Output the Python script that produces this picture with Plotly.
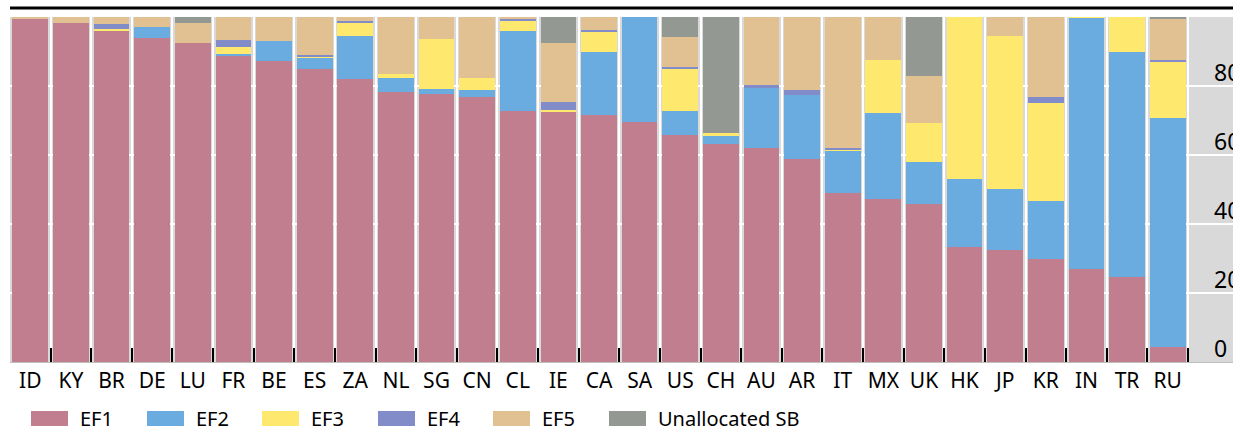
import plotly.graph_objects as go

categories = ["ID", "KY", "BR", "DE", "LU", "FR", "BE", "ES", "ZA", "NL", "SG", "CN", "CL", "IE",
              "CA", "SA", "US", "CH", "AU", "AR", "IT", "MX", "UK", "HK", "JP", "KR", "IN", "TR", "RU"]

ef1 = [99.6, 98.4, 95.8, 94.0, 92.5, 88.7, 87.2, 85.0, 82.1, 78.4, 77.6, 76.7, 72.8, 72.6, 71.6,
       69.5, 65.8, 63.2, 62.1, 58.8, 49.0, 47.2, 45.8, 33.2, 32.6, 29.9, 27.0, 24.7, 4.4]
ef2 = [0, 0, 0, 3.2, 0, 0.5, 5.8, 3.0, 12.5, 4.0, 1.4, 2.2, 23.1, 0, 18.3,
       30.5, 7.0, 2.3, 17.2, 18.6, 12.2, 25.1, 12.3, 19.8, 17.6, 16.8, 72.8, 65.2, 66.4]
ef3 = [0, 0, 0.6, 0, 0, 2.2, 0, 0.6, 3.8, 1.2, 14.6, 3.4, 3.1, 0.4, 6.0,
       0, 12.2, 0.9, 0, 0, 0.4, 15.3, 11.3, 47.0, 44.4, 28.3, 0.2, 10.1, 16.4]
ef4 = [0, 0, 1.6, 0, 0, 1.9, 0, 0.3, 0.4, 0, 0, 0, 0.3, 2.5, 0.4,
       0, 0.5, 0, 1.0, 1.4, 0.5, 0, 0, 0, 0, 1.7, 0, 0, 0.4]
ef5 = [0.4, 1.6, 2.0, 2.8, 5.9, 6.7, 7.0, 11.1, 1.2, 16.4, 6.4, 17.7, 0.7, 17.1, 3.7,
       0, 8.7, 0, 19.7, 21.2, 37.9, 12.4, 13.5, 0, 5.4, 23.3, 0, 0, 12.0]
unalloc = [0, 0, 0, 0, 1.6, 0, 0, 0, 0, 0, 0, 0, 0, 7.4, 0,
           0, 5.8, 33.6, 0, 0, 0, 0, 17.1, 0, 0, 0, 0, 0, 0.4]

series_names = ["EF1", "EF2", "EF3", "EF4", "EF5", "Unallocated SB"]
series_values = [ef1, ef2, ef3, ef4, ef5, unalloc]
series_colors = ["#C07E8E", "#6AACDF", "#FFE86E", "#828CC8", "#E1C191", "#939992"]

y_tick_vals = [0, 20, 40, 60, 80]
y_tick_text = ["0", "20", "40", "60", "80"]

W, H = 1233, 427
ML, MR, MT, MB = 10, 0, 17, 65
PW, PH = W - ML - MR, H - MT - MB

FONT = "Noto Sans"

fig = go.Figure()
for name, vals, col in zip(series_names, series_values, series_colors):
    fig.add_trace(go.Bar(x=categories, y=vals, name=name, marker=dict(color=col, line=dict(width=0)),
                         showlegend=False))

n = len(categories)
pitch = (1188 - ML) / n
xmax = -0.5 + PW / pitch

fig.update_layout(
    width=W, height=H,
    margin=dict(l=ML, r=MR, t=MT, b=MB, autoexpand=False),
    barmode="stack", bargap=0.12,
    paper_bgcolor="white", plot_bgcolor="#D9D9D9",
    font=dict(family=FONT, size=21, color="black"),
    xaxis=dict(type="category", range=[-0.5, xmax], tickson="boundaries", tickangle=0,
               automargin=False,
               showgrid=True, gridcolor="white", gridwidth=2,
               ticks="inside", ticklen=14, tickwidth=2, tickcolor="black",
               showline=True, linecolor="#BFBFBF", linewidth=1,
               tickfont=dict(family=FONT, size=21, color="black")),
    yaxis=dict(range=[0, 100], tickvals=y_tick_vals, showticklabels=False, automargin=False,
               showgrid=True, gridcolor="white", gridwidth=2, zeroline=False),
)

# y tick labels (drawn inside the grey band at the right edge)
for v, t in zip(y_tick_vals, y_tick_text):
    fig.add_annotation(x=(1212 - ML) / PW, xref="paper", y=v, yref="y", yshift=14,
                       text=t, showarrow=False, xanchor="left", yanchor="middle",
                       font=dict(family=FONT, size=23, color="black"))

# top rule
fig.add_shape(type="line", xref="paper", yref="paper", x0=0, x1=1.01,
              y0=1 + (MT - 8) / PH, y1=1 + (MT - 8) / PH, line=dict(color="black", width=3))

# custom legend
swatch_x = [31, 147, 262, 378, 493, 609]
for i, (name, col) in enumerate(zip(series_names, series_colors)):
    x0 = swatch_x[i]
    fig.add_shape(type="rect", xref="paper", yref="paper",
                  x0=(x0 - ML) / PW, x1=(x0 + 37 - ML) / PW,
                  y0=(MT + PH - 411) / PH, y1=(MT + PH - 426) / PH,
                  fillcolor=col, line=dict(width=0))
    fig.add_annotation(x=(x0 + 47 - ML) / PW, xref="paper", y=(MT + PH - 418) / PH, yref="paper",
                       text=name, showarrow=False, xanchor="left", yanchor="middle",
                       font=dict(family=FONT, size=20, color="black"))

fig.write_html("out.html", config={"displayModeBar": False},
               post_script="document.body.style.margin='0';document.body.style.overflow='hidden';")
